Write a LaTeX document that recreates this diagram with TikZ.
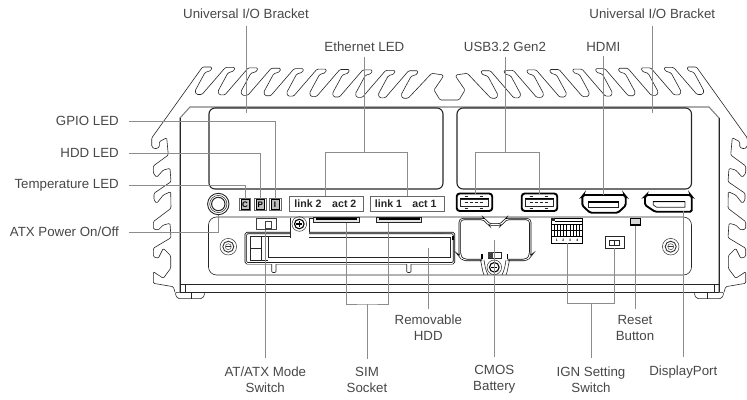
\documentclass[tikz,border=0pt]{standalone}
\usepackage{fontspec}
\setmainfont{Liberation Sans}
\begin{document}
\begin{tikzpicture}[x=1pt,y=-1pt,
		label_style/.style={inner sep=0pt,align=center,text=black!72,font=\fontsize{13.3}{16}\selectfont},
		lead_style/.style={draw=black!45,line width=0.8pt},
		body_style/.style={draw=black!85,line width=0.6pt},
		edge_style/.style={draw=black!50,line width=1.1pt},
		window_style/.style={draw=black!85,line width=1.1pt,rounded corners=6pt},
		bay_style/.style={draw=black,line width=0.7pt,double=white,double distance=0.9pt},
		port_style/.style={draw=black,fill=white,line width=1.9pt},
		box_style/.style={draw=black!60,line width=0.8pt},
		led_style/.style={draw=black,fill=black!25,line width=1pt,inner sep=0pt,minimum width=8pt,minimum height=9.5pt,font=\bfseries\fontsize{8}{8}\selectfont},
		link_style/.style={inner sep=0pt,text=black!85,font=\bfseries\fontsize{10.6}{11}\selectfont}]

	\useasboundingbox (0,0) rectangle (747,399);

	\foreach \side/\shft in {1/0,-1/899}{
		\begin{scope}[xshift=\shft pt,xscale=\side]
			\draw[body_style,rounded corners=1.2pt] (175,292.3) -- (173.3,286.7) -- (153.3,283.3) -- (153.3,271.7) -- (158.3,275) -- (163.3,278.3) -- (170.7,268.3) -- (170.7,255.7) -- (163.3,248.3) -- (158.3,258.3) -- (153.3,256.7) -- (153.3,248.3) -- (171,237.7) -- (170,223.3) -- (163.3,225) -- (158.3,230) -- (153.3,229) -- (153.3,221.7) -- (171,208.3) -- (170.7,191.7) -- (163.3,195) -- (156.7,203.3) -- (154,200) -- (154,193.3) -- (171,181.7) -- (170,168.3) -- (163.3,170) -- (156.7,177.3) -- (153.3,173.3) -- (153.3,166) -- (168.3,155) -- (166.7,137.7) -- (159.3,141.7) -- (159.3,147.3) -- (155,149) -- (151.7,146.7) -- (151.7,138)
				\foreach \i in {0,...,9}{
					-- ({212+22.9*\i-9.5},{67+0.42*\i}) -- ({212+22.9*\i},{67+0.42*\i}) -- ({212+22.9*\i-1},{67+0.42*\i+3.5}) -- ({212+22.9*\i-7},{67+0.42*\i+5.5}) -- ({212+22.9*\i-17},{67+0.42*\i+24}) -- ({212+22.9*\i-15.5},{67+0.42*\i+27.5}) -- ({212+22.9*\i-10},{67+0.42*\i+27.5})
				} -- (431.7,73.3) -- (443.3,75) -- (442.7,77.3) -- (434,90) -- (440,100) -- (449.5,100);
			\draw[edge_style] (180,292) -- (180,118) -- (190,107) -- (449.5,107);
			\draw[body_style] (180,118) -- (180,292);
			\draw[body_style,rounded corners=2pt] (175,292.3) -- (205,292.3) -- (203,298.6) -- (177,298.6) -- cycle;
			\draw[body_style] (191.7,292.3) -- (191.7,298.6);
			\draw[body_style,line width=1pt] (185,284) -- (185,292);
		\end{scope}
	}

	\draw[body_style,line width=0.8pt] (180,284) -- (719,284);
	\draw[body_style,line width=0.8pt] (180,292) -- (719,292);
	\draw[window_style] (209,108) rectangle (443,189);
	\draw[window_style] (457,108) rectangle (691.5,189);
	\draw[body_style,rounded corners=8pt] (208.5,217) rectangle (691.5,275);

	\foreach \r/\w in {10.7/0.9,8.6/0.5,6.7/1}{
		\draw[black!85,line width=\w pt] (218.3,204) circle (\r);
	}
	\draw[box_style] (239.3,198.3) rectangle (250.7,210.7);
	\draw[box_style] (254.5,198.3) rectangle (266,210.7);
	\draw[box_style] (269.3,198.3) rectangle (281,210.7);
	\node[led_style] (n_led_t) at (245,204.5) {C};
	\node[led_style] (n_led_h) at (260.2,204.5) {P};
	\node[led_style] (n_led_g) at (275.1,204.5) {I};

	\draw[box_style] (289,196.7) rectangle (363.3,211);
	\draw[box_style] (370,196.7) rectangle (444,211);
	\node[link_style] (n_link2) at (308,204) {link 2};
	\node[link_style] (n_act2) at (344.3,204) {act 2};
	\node[link_style] (n_link1) at (388.5,204) {link 1};
	\node[link_style] (n_act1) at (424.5,204) {act 1};

	\foreach \ux in {456.7,521.7}{
		\begin{scope}[shift={(\ux,193.5)}]
			\draw[port_style,rounded corners=3pt] (0,0) rectangle (35.5,17.5);
			\draw[black!85,line width=0.6pt] (3.5,5.5) rectangle (32,13);
			\draw[black,line width=1.6pt] (3.5,5) -- (32,5);
			\foreach \p in {8,13,18,23}{
				\draw[black!85,line width=0.8pt] (\p,8.5) -- ++(3,0);
			}
			\draw[black!85,line width=0.6pt] (8,2.5) -- ++(3.5,0) (23,2.5) -- ++(3.5,0) (8,15) -- ++(3.5,0) (23,15) -- ++(3.5,0);
		\end{scope}
	}

	\draw[port_style,rounded corners=1.5pt] (583.5,195) -- (624.5,195) -- (625.7,196.5) -- (625.7,205.5) -- (618,212.7) -- (590,212.7) -- (582.3,205.5) -- (582.3,196.5) -- cycle;
	\draw[black!85,line width=0.6pt,fill=white] (588,201.7) rectangle (618.5,207.3);
	\draw[black,line width=1.2pt] (588,202) -- (618.5,202);

	\draw[port_style,rounded corners=1.5pt] (646.5,195) -- (690.5,195) -- (691.7,196.5) -- (691.7,211.7) -- (655,211.7) -- (645,205) -- (645,196.5) -- cycle;
	\draw[black!85,line width=0.7pt] (653.3,201.7) -- (685,201.7) -- (685,207.3) -- (656.7,207.3) -- (653.3,205) -- cycle;
	\draw[black,line width=1.1pt] (653.3,201.7) -- (685,201.7);

	\foreach \sx/\sy in {228.3/246.7,670.7/246.7}{
		\draw[black!80,line width=0.5pt] (\sx,\sy) circle (8.3);
		\draw[black!80,line width=0.9pt] (\sx,\sy) circle (5.5);
		\draw[black!70,line width=0.5pt] (\sx,\sy) circle (3);
		\draw[black!80,line width=0.7pt] (\sx-2.5,\sy) -- (\sx+2.5,\sy);
	}
	\foreach \sx/\sy in {299.3/224,494.3/267.3}{
		\draw[black!80,line width=0.5pt] (\sx,\sy) circle (7.3);
		\draw[black,line width=1.1pt] (\sx,\sy) circle (4.8);
		\draw[black,line width=1.1pt] (\sx-3,\sy) -- (\sx+3,\sy) (\sx,\sy-3) -- (\sx,\sy+3);
	}

	\draw[box_style,draw=black!75] (256.7,218.3) rectangle (276,229.3);
	\draw[box_style,draw=black!75] (265,221.7) rectangle (271.7,228.3);

	\draw[body_style] (290,217.5) -- (290,238) (309,218) -- (309,234) (309,218) -- (313,218);
	\draw[bay_style,rounded corners=1.5pt] (290,233) -- (245.8,233) -- (245.8,263.3) -- (454,263.3) -- (454,233) -- (309,233);
	\draw[body_style] (250,236.5) -- (290,236.5) (309,237.5) -- (450.5,237.5) -- (450.5,257.5) -- (268,257.5) -- (268,236.5) (250,236.5) -- (250,260) -- (268,260) (250,248.3) -- (261.7,248.3) (261.7,236.5) -- (261.7,260);
	\foreach \t in {433,436,439,442}{
		\draw[black!70,line width=0.5pt] (\t,233.7) -- ++(1.8,0);
	}
	\draw[black,line width=1.2pt] (453,236) -- (453,240);
	\foreach \t in {271.7,406.7}{
		\draw[body_style,fill=white,rounded corners=1pt] (\t,264) -- (\t,272.5) -- (\t+4.3,272.5) -- (\t+4.3,264);
	}

	\draw[body_style,line width=0.9pt,fill=black!10] (313.3,217.7) rectangle (359,222.7);
	\draw[black,line width=1.4pt] (315.5,219) -- (356.5,219);
	\draw[body_style,line width=0.9pt,fill=black!10] (376.7,217.7) rectangle (421.7,222.7);
	\draw[black,line width=1.4pt] (379,219) -- (419.5,219);

	\draw[bay_style,rounded corners=3.5pt] (482,260) -- (463,260) -- (459.8,256) -- (459.8,219) -- (485,219) -- (488,224.5) -- (502,224.5) -- (505,219) -- (530.2,219) -- (530.2,256) -- (527,260) -- (507.5,260);
	\draw[black,line width=1.3pt] (482,254) -- (482,259) (507.5,254) -- (507.5,259);
	\draw[body_style] (480.5,260) .. controls (482,266) and (482,270) .. (484,275) (484,260) .. controls (485,266) and (485,268) .. (488,275);
	\draw[body_style] (509.5,260) .. controls (508,266) and (508,270) .. (506,275) (506,260) .. controls (505,266) and (505,268) .. (502,275);
	\draw[body_style,line width=0.8pt] (488,252.3) rectangle (501.7,258.3);
	\fill[black!75] (488,252.3) rectangle (493,258.3);

	\draw[black,line width=0.8pt] (551,218.3) rectangle (582.3,243.3);
	\fill[black!85] (551,218.3) rectangle (555,221);
	\draw[black,line width=0.7pt] (555,221) -- (582.3,221) (551,224) -- (582.3,224) (551,230) -- (582.3,230) (551,236.5) -- (582.3,236.5);
	\foreach \c in {554,557,560,563.5,566.5,570,573,576.5,579.5}{
		\draw[black,line width=0.7pt] (\c,224) -- (\c,236.5);
	}
	\node[inner sep=0pt,font=\bfseries\fontsize{3.4}{4}\selectfont] (n_pin1) at (556.7,240) {1};
	\node[inner sep=0pt,font=\bfseries\fontsize{3.4}{4}\selectfont] (n_pin2) at (563.3,240) {2};
	\node[inner sep=0pt,font=\bfseries\fontsize{3.4}{4}\selectfont] (n_pin3) at (570,240) {3};
	\node[inner sep=0pt,font=\bfseries\fontsize{3.4}{4}\selectfont] (n_pin4) at (577.3,240) {4};

	\draw[black!85,line width=0.7pt] (605,236.7) rectangle (624,248.3);
	\draw[black!85,line width=0.6pt] (609.3,240) rectangle (619,245) (614.3,240) -- (614.3,245);
	\draw[black,line width=1pt,fill=black!15] (630.5,218.6) rectangle (640.7,225.5);
	\draw[black,line width=1.3pt] (630.5,218.6) -- (640.7,218.6);
	\draw[black,line width=1.8pt] (630.5,225) -- (640.7,225);

	\node[label_style] (n_bracket1) at (246,13.5) {Universal I/O Bracket};
	\node[label_style] (n_bracket2) at (652.3,13.5) {Universal I/O Bracket};
	\node[label_style] (n_ethernet) at (364.4,46.7) {Ethernet LED};
	\node[label_style] (n_usb) at (505,46.7) {USB3.2 Gen2};
	\node[label_style] (n_hdmi) at (603.3,46.7) {HDMI};
	\node[label_style,anchor=east] (n_gpio) at (119,121) {GPIO LED};
	\node[label_style,anchor=east] (n_hdd) at (119,153) {HDD LED};
	\node[label_style,anchor=east] (n_temp) at (119,185) {Temperature LED};
	\node[label_style,anchor=east] (n_atx) at (119,232) {ATX Power On/Off};
	\node[label_style] (n_mode) at (265.3,379.5) {AT/ATX Mode\\Switch};
	\node[label_style] (n_sim) at (367,379.5) {SIM\\Socket};
	\node[label_style] (n_removable) at (428.3,328) {Removable\\HDD};
	\node[label_style] (n_cmos) at (494.3,379.5) {CMOS\\Battery};
	\node[label_style] (n_ign) at (591,379.5) {IGN Setting\\Switch};
	\node[label_style] (n_reset) at (635,328) {Reset\\Button};
	\node[label_style] (n_dp) at (683.3,371.7) {DisplayPort};

	\coordinate (c_bracket1) at (246,113);
	\coordinate (c_bracket2) at (652.3,113);
	\coordinate (c_eth) at (364.4,152.3);
	\coordinate (c_eth1) at (325.7,196);
	\coordinate (c_eth2) at (407.3,196);
	\coordinate (c_usb) at (505,152.3);
	\coordinate (c_usb1) at (475,194);
	\coordinate (c_usb2) at (539.3,194);
	\coordinate (c_hdmi) at (603.3,195);
	\coordinate (c_atx) at (218.3,214.7);
	\coordinate (c_mode) at (265.3,230);
	\coordinate (c_sim) at (367,304);
	\coordinate (c_sim1) at (346.7,222.7);
	\coordinate (c_sim2) at (388.3,222.7);
	\coordinate (c_removable) at (428.3,248);
	\coordinate (c_cmos) at (494.3,240);
	\coordinate (c_ign) at (591,303.3);
	\coordinate (c_ign1) at (567.7,243.3);
	\coordinate (c_ign2) at (614.5,248.3);
	\coordinate (c_reset) at (635,225.7);
	\coordinate (c_dp) at (683.3,210.7);

	\draw[lead_style,shorten <=7pt] (n_bracket1) -- (c_bracket1);
	\draw[lead_style,shorten <=7pt] (n_bracket2) -- (c_bracket2);
	\draw[lead_style,shorten <=5pt] (n_ethernet) -- (c_eth);
	\draw[lead_style] (c_eth1) |- (c_eth) -| (c_eth2);
	\draw[lead_style,shorten <=5pt] (n_usb) -- (c_usb);
	\draw[lead_style] (c_usb1) |- (c_usb) -| (c_usb2);
	\draw[lead_style,shorten <=5pt] (n_hdmi) -- (c_hdmi);
	\draw[lead_style,shorten <=10pt] (n_gpio.east) -| (n_led_g.north);
	\draw[lead_style,shorten <=10pt] (n_hdd.east) -| (n_led_h.north);
	\draw[lead_style,shorten <=10pt] (n_temp.east) -| (n_led_t.north);
	\draw[lead_style,shorten <=10pt] (n_atx.east) -| (c_atx);
	\draw[lead_style,shorten >=8pt] (c_mode) -- (n_mode);
	\draw[lead_style,shorten >=8pt] (c_sim) -- (n_sim);
	\draw[lead_style] (c_sim1) |- (c_sim) -| (c_sim2);
	\draw[lead_style,shorten >=6pt] (c_removable) -- (n_removable);
	\draw[lead_style,shorten >=8pt] (c_cmos) -- (n_cmos);
	\draw[lead_style,shorten >=8pt] (c_ign) -- (n_ign);
	\draw[lead_style] (c_ign1) |- (c_ign) -| (c_ign2);
	\draw[lead_style,shorten >=6pt] (c_reset) -- (n_reset);
	\draw[lead_style,shorten >=8pt] (c_dp) -- (n_dp);
\end{tikzpicture}
\end{document}
